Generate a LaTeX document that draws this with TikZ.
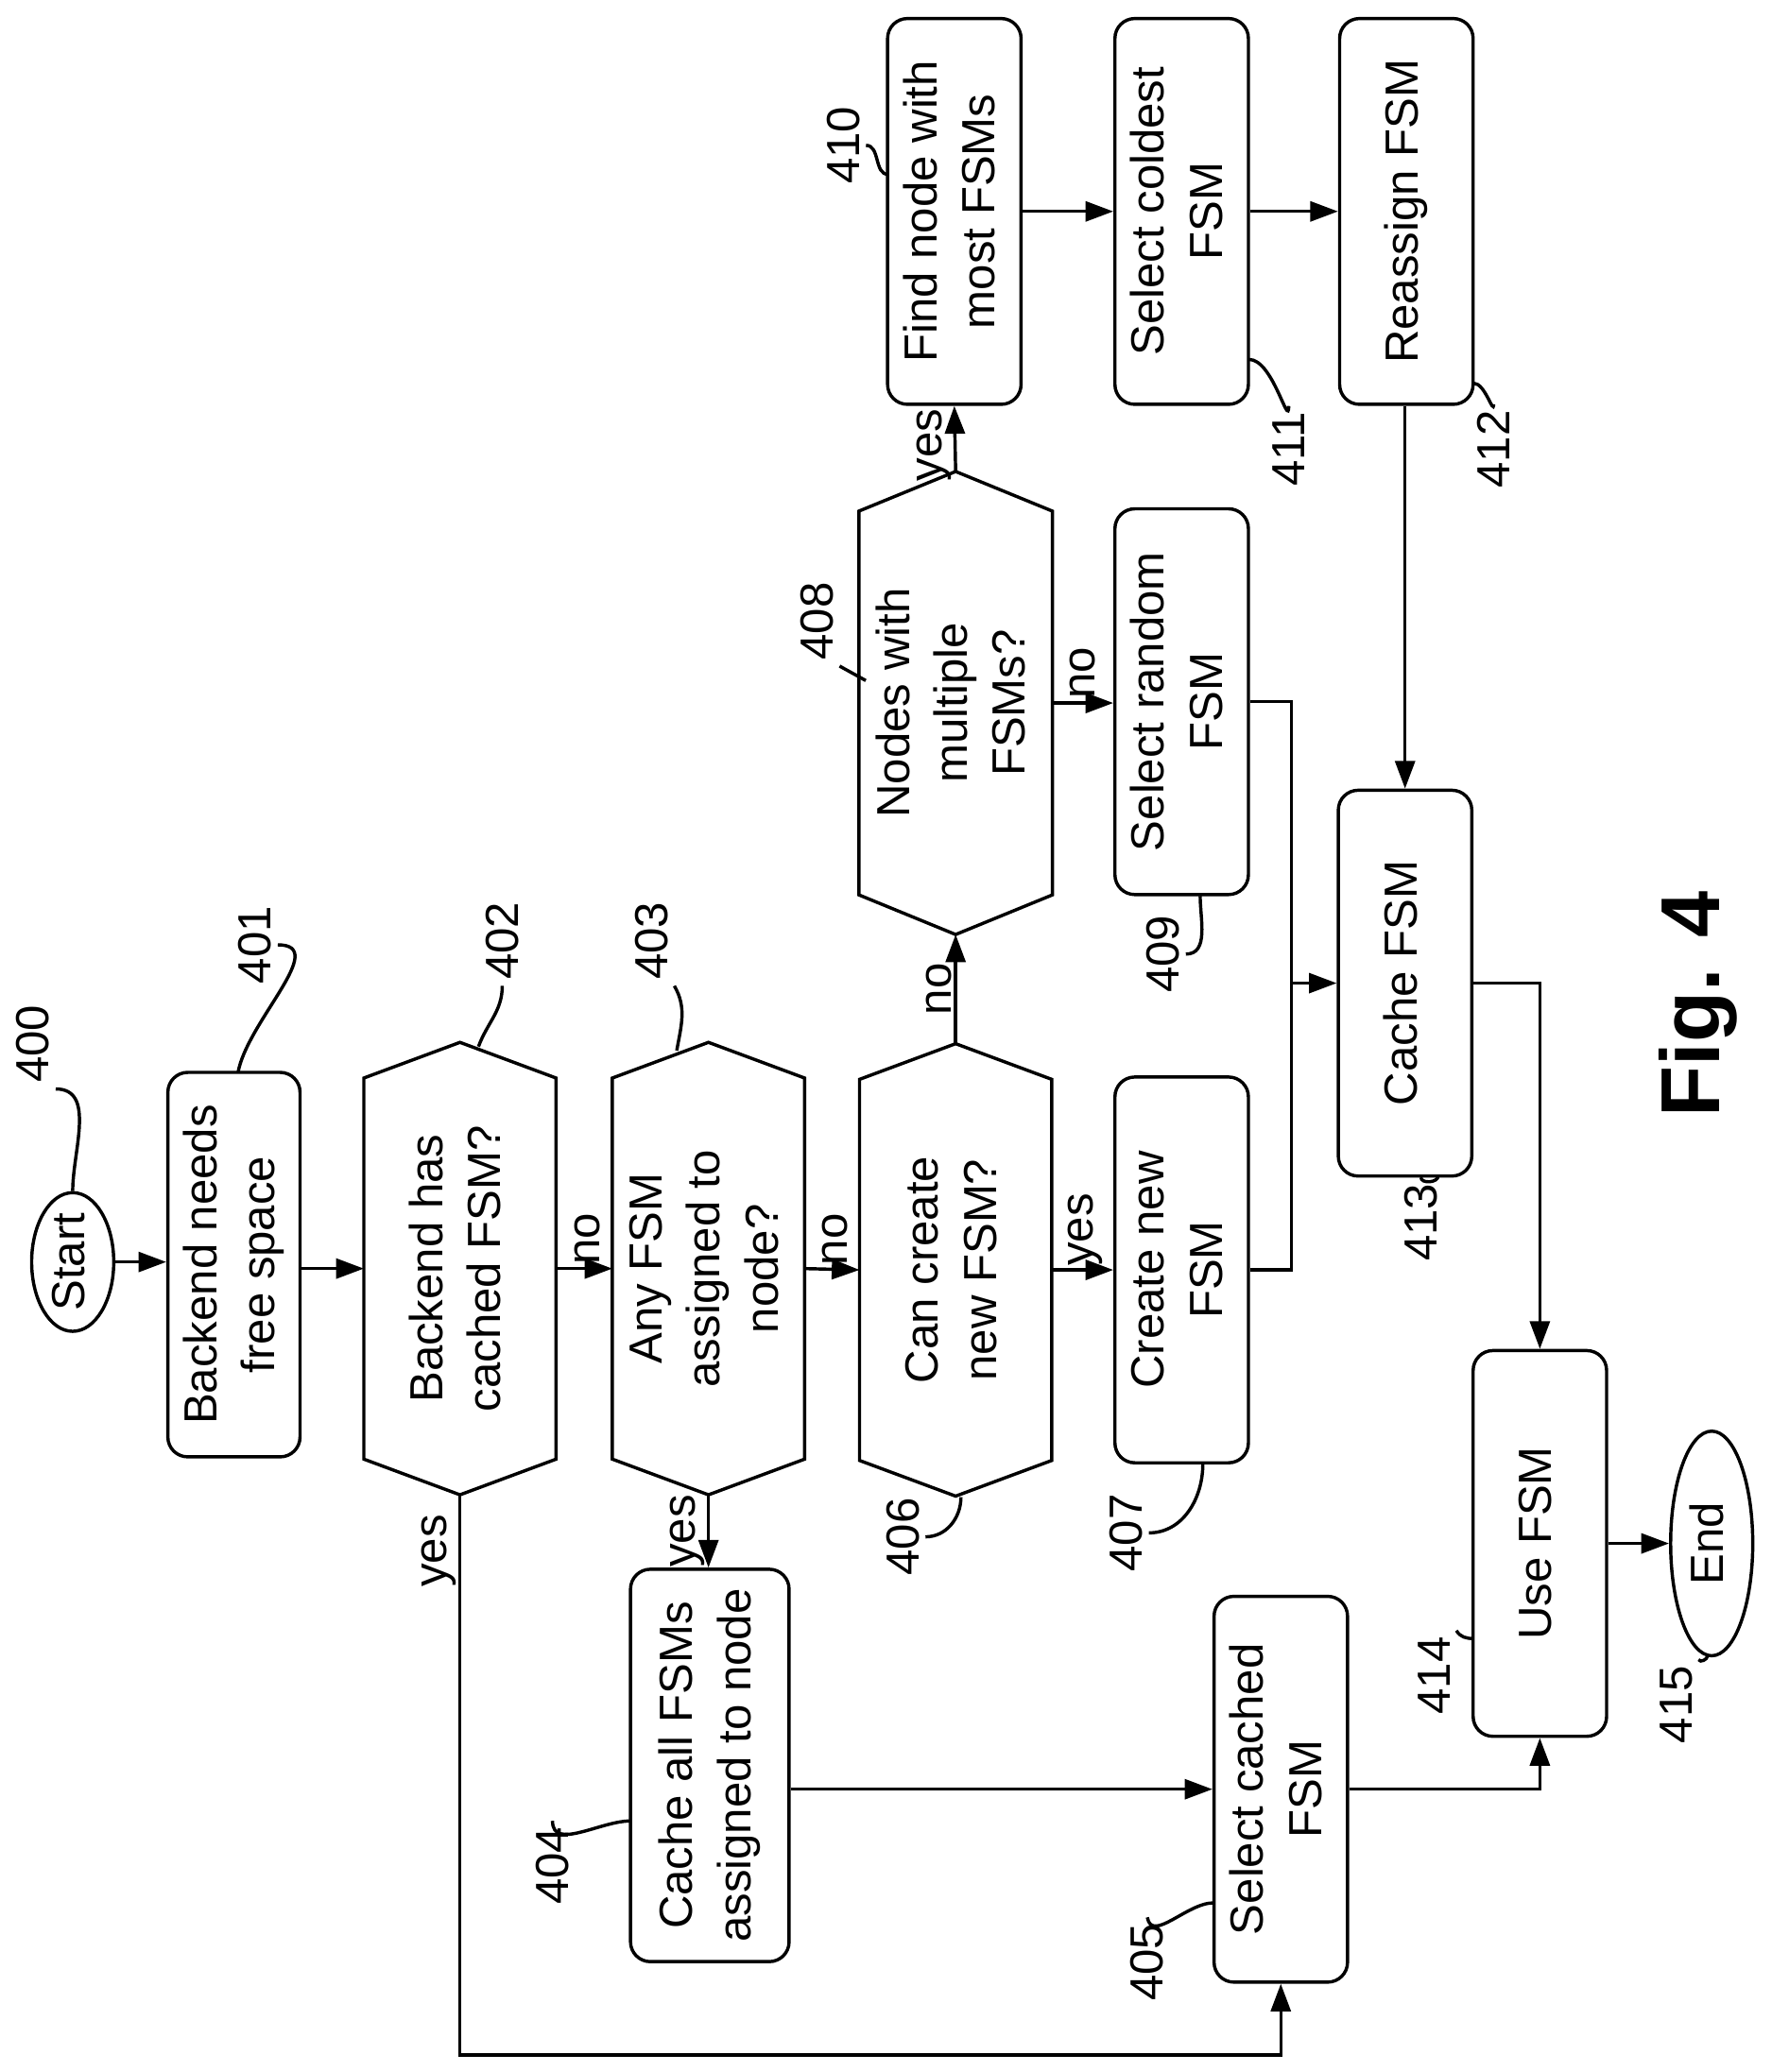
\documentclass[tikz,border=0pt]{standalone}
\usepackage{fontspec}
\setmainfont{Liberation Sans}
\usetikzlibrary{shapes.geometric,arrows.meta,calc}
\begin{document}
\begin{tikzpicture}[x=0.02cm,y=-0.02cm,line width=1.4pt,
  txt/.style={font=\fontsize{20}{25}\selectfont,align=center,inner sep=0pt},
  box/.style={txt,draw,rounded corners=0.3cm,minimum width=2.02cm,minimum height=5.84cm},
  hexn/.style={txt,minimum width=2.86cm,minimum height=5.72cm},
  ell/.style={txt,draw,ellipse},
  arr/.style={-{Triangle[length=0.42cm,width=0.3cm]}},
  lbl/.style={font=\fontsize{20}{24}\selectfont,inner sep=1pt},
  ref/.style={font=\fontsize{20}{24}\selectfont,inner sep=2pt}]
\useasboundingbox (0,0) rectangle (1340,1568);
\newcommand{\rt}[1]{\rotatebox{90}{\begin{tabular}{@{}c@{}}#1\end{tabular}}}
\newcommand{\hexdraw}[2]{\draw (#1.north west) -- ([yshift=#2]#1.north) -- (#1.north east) -- (#1.south east) -- ([yshift=-#2]#1.south) -- (#1.south west) -- cycle;
  \coordinate (#1t) at ([yshift=#2]#1.north); \coordinate (#1b) at ([yshift=-#2]#1.south);}
% nodes
\node[ell,minimum width=1.0cm,minimum height=1.92cm] (n400) at (55,955) {\rt{Start}};
\node[box,minimum width=2.0cm,minimum height=5.82cm] (n401) at (177,957) {\rt{Backend needs\\free space}};
\node[hexn] (n402) at (348,960) {\rt{Backend has\\cached FSM?}}; \hexdraw{n402}{0.54cm}
\node[hexn] (n403) at (536,960) {\rt{Any FSM\\assigned to\\node?}}; \hexdraw{n403}{0.54cm}
\node[hexn] (n406) at (723,961) {\rt{Can create\\new FSM?}}; \hexdraw{n406}{0.54cm}
\node[box] (n407) at (894,961) {\rt{Create new\\FSM}};
\node[box,minimum width=2.4cm,minimum height=5.94cm] (n404) at (537,1336) {\rt{Cache all FSMs\\assigned to node}};
\node[box] (n405) at (969,1354) {\rt{Select cached\\FSM}};
\node[hexn,minimum width=2.88cm,minimum height=5.76cm] (n408) at (723,532) {\rt{Nodes with\\multiple\\FSMs?}}; \hexdraw{n408}{0.6cm}
\node[box] (n409) at (894,531) {\rt{Select random\\FSM}};
\node[box] (n410) at (722,160) {\rt{Find node with\\most FSMs}};
\node[box] (n411) at (894,160) {\rt{Select coldest\\FSM}};
\node[box] (n412) at (1064,160) {\rt{Reassign FSM}};
\node[box] (n413) at (1063,744) {\rt{Cache FSM}};
\node[box] (n414) at (1165,1168) {\rt{Use FSM}};
\node[ell,minimum width=1.08cm,minimum height=3.4cm] (n415) at (1295,1168) {\rt{End}};
% connectors
\draw[arr] (n400.east) -- (n400.east -| n401.west);
\draw[arr] (n401.east |- n402.west) -- (n402.west);
\draw[arr] (n402.east) -- node[lbl,above,pos=0.55]{\rotatebox{90}{no}} (n403.west);
\draw[arr] (n403.east) -- node[lbl,above,pos=0.55]{\rotatebox{90}{no}} (n406.west);
\draw[arr] (n406.east) -- node[lbl,above,pos=0.55]{\rotatebox{90}{yes}} (n407.west);
\draw[arr] (n406t) -- node[lbl,left]{\rotatebox{90}{no}} (n408b);
\draw[arr] (n408t) -- node[lbl,left,pos=0.4]{\rotatebox{90}{yes}} (n410.south);
\draw[arr] (n408.east) -- node[lbl,above]{\rotatebox{90}{no}} (n408.east -| n409.west);
\draw[arr] (n410.east) -- (n411.west);
\draw[arr] (n411.east) -- (n412.west);
\draw[arr] (n412.south -| n413.north) -- (n413.north);
\coordinate (j) at (977,744);
\draw (n409.east) -| (j);
\draw (n407.east) -| (j);
\draw[arr] (j) -- (n413.west);
\draw[arr] (n413.east) -| (n414.north);
\draw[arr] (n414.east) -- (n415.west);
\coordinate (c402) at (348,1555);
\draw[arr] (n402b) -- node[lbl,left,pos=0.1]{\rotatebox{90}{yes}} (c402) -| (n405.south);
\draw[arr] (n403b) -- node[lbl,left]{\rotatebox{90}{yes}} (n403b |- n404.north);
\draw[arr] (n404.east |- n405.west) -- (n405.west);
\draw[arr] (n405.east) -| (n414.south);
% reference labels
\node[ref] (r400) at (25,790) {\rotatebox{90}{400}};
\draw (r400.south east) to[out=0,in=90] (n400.north);
\node[ref] (r401) at (193,715) {\rotatebox{90}{401}};
\draw (r401.east) to[out=0,in=80] (180,812);
\node[ref] (r402) at (380,712) {\rotatebox{90}{402}};
\draw (r402.south) to[out=-90,in=70] (362,792);
\node[ref] (r403) at (493,712) {\rotatebox{90}{403}};
\draw (r403.south east) to[out=-60,in=80] (512,795);
\node[ref] (r406) at (683,1163) {\rotatebox{90}{406}};
\draw (r406.east) to[out=0,in=-90] (727,1133);
\node[ref] (r407) at (852,1160) {\rotatebox{90}{407}};
\draw (r407.east) to[out=0,in=-90] (910,1108);
\node[ref] (r404) at (418,1412) {\rotatebox{90}{404}};
\draw (r404.north) to[out=-90,in=180] (477,1378);
\node[ref] (r405) at (868,1485) {\rotatebox{90}{405}};
\draw (r405.north) to[out=-80,in=180] (918,1440);
\node[ref] (r408) at (618,470) {\rotatebox{90}{408}};
\draw (r408.south east) -- (655,515);
\node[ref] (r409) at (880,722) {\rotatebox{90}{409}};
\draw (r409.east) to[out=0,in=-90] (908,678);
\node[ref] (r410) at (638,110) {\rotatebox{90}{410}};
\draw (r410.east) to[out=0,in=180] (672,132);
\node[ref] (r411) at (975,340) {\rotatebox{90}{411}};
\draw (r411.north) to[out=-90,in=0] (945,272);
\node[ref] (r412) at (1130,340) {\rotatebox{90}{412}};
\draw (r412.north) to[out=-90,in=0] (1115,290);
\node[ref] (r413) at (1075,925) {\rotatebox{90}{413}};
\draw (r413.north) to[out=-90,in=-90] (1088,890);
\node[ref] (r414) at (1085,1268) {\rotatebox{90}{414}};
\draw (r414.north east) to[out=-60,in=180] (1115,1240);
\node[ref] (r415) at (1268,1290) {\rotatebox{90}{415}};
\draw (r415.north east) to[out=-60,in=-100] (1292,1253);
\node[font=\fontsize{36}{40}\selectfont\bfseries] (fig) at (1285,760) {\rotatebox{90}{Fig. 4}};
\end{tikzpicture}
\end{document}
